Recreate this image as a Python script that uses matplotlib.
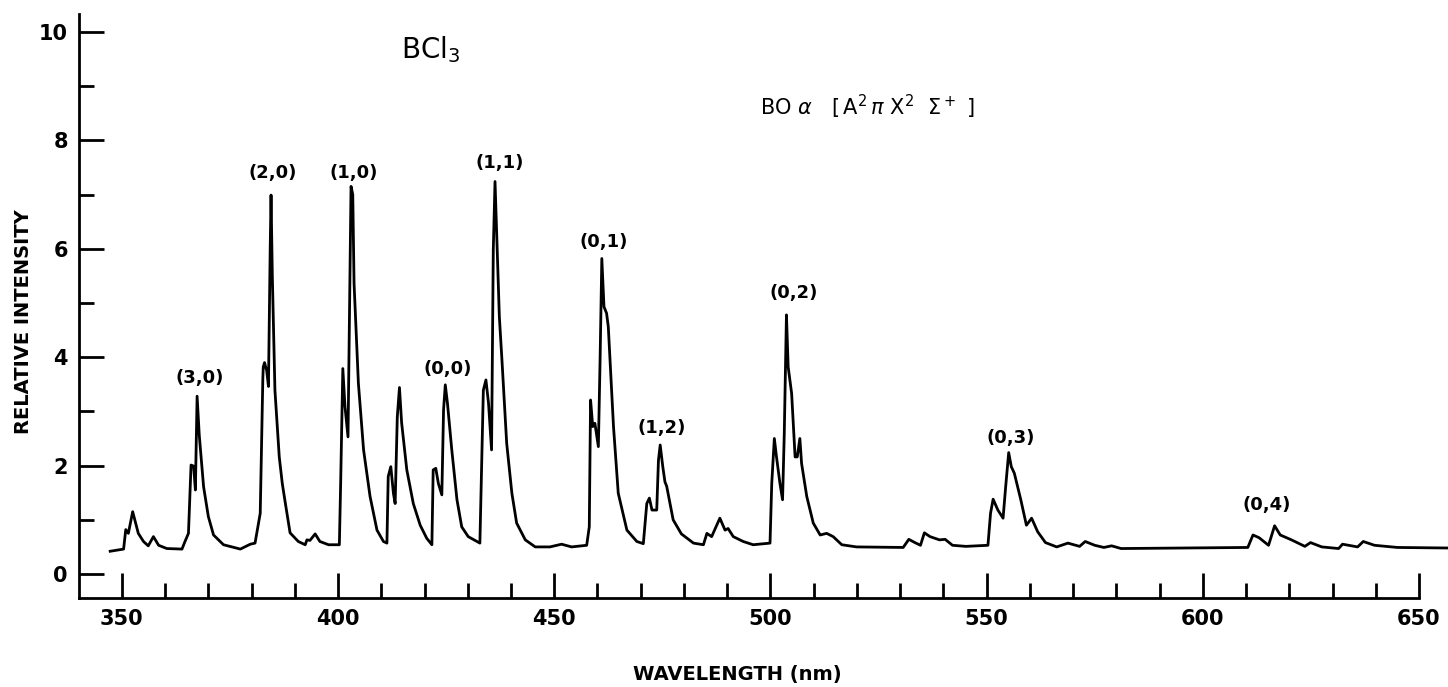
import matplotlib
matplotlib.use('Agg')
import matplotlib.pyplot as plt
from matplotlib.ticker import MultipleLocator

# BCl3 emission spectrum
wavelength = [
    347.3, 350.4, 350.9, 351.5, 352.5, 353.8, 355.0, 356.1, 357.3, 358.5,
    360.4, 363.9, 364.6, 365.4, 366.0, 366.6, 367.0, 367.4, 367.9, 368.9,
    370.0, 371.2, 373.5, 377.4, 379.7, 380.8, 382.0, 382.6, 382.7, 383.0,
    383.5, 383.9, 384.3, 384.5, 384.8, 385.4, 386.4, 387.1, 387.8, 388.9,
    390.8, 392.4, 392.8, 393.5, 394.7, 395.8, 397.8, 400.3, 400.6, 401.1,
    401.6, 402.3, 402.8, 403.0, 403.4, 403.7, 404.7, 405.9, 407.4, 409.0,
    410.5, 411.3, 411.6, 412.2, 412.8, 413.2, 413.7, 414.2, 414.7, 415.9,
    417.4, 419.0, 420.5, 421.7, 422.0, 422.6, 423.2, 424.0, 424.4, 424.8,
    425.3, 426.3, 427.5, 428.6, 430.1, 432.8, 433.6, 434.2, 434.8, 435.5,
    435.9, 436.3, 436.7, 437.3, 437.9, 439.0, 440.2, 441.3, 443.3, 445.6,
    449.0, 451.7, 454.0, 457.5, 458.1, 458.4, 458.9, 459.4, 460.2, 460.6,
    461.0, 461.5, 462.1, 462.5, 463.7, 464.8, 466.8, 469.1, 470.6, 471.4,
    472.0, 472.6, 473.7, 474.1, 474.5, 475.1, 475.6, 476.0, 477.5, 479.4,
    482.2, 484.5, 485.3, 486.4, 487.4, 488.3, 489.5, 490.2, 491.4, 493.7,
    496.0, 499.9, 500.3, 500.9, 501.4, 502.2, 502.8, 503.2, 503.7, 504.1,
    504.9, 505.7, 506.2, 506.8, 507.2, 508.4, 509.9, 511.5, 513.0, 514.5,
    516.5, 519.9, 530.7, 532.0, 533.4, 534.7, 535.6, 536.9, 539.1, 540.4,
    542.1, 545.2, 550.3, 550.9, 551.5, 552.6, 553.8, 554.4, 555.1, 555.7,
    556.4, 557.9, 559.2, 560.4, 561.8, 563.6, 566.2, 568.8, 571.5, 572.8,
    575.0, 577.1, 578.9, 581.1, 610.4, 611.6, 613.0, 615.2, 616.6, 617.9,
    620.5, 623.6, 624.9, 627.5, 631.4, 632.3, 635.8, 637.1, 639.7, 645.0,
    656.5,
]
intensity = [
    0.42, 0.46, 0.82, 0.75, 1.15, 0.75, 0.60, 0.52, 0.69, 0.53,
    0.47, 0.46, 0.60, 0.75, 2.01, 1.99, 1.55, 3.28, 2.56, 1.61,
    1.06, 0.72, 0.54, 0.46, 0.55, 0.57, 1.12, 3.60, 3.82, 3.90,
    3.75, 3.46, 5.98, 6.99, 5.49, 3.39, 2.16, 1.67, 1.31, 0.76,
    0.60, 0.54, 0.63, 0.62, 0.74, 0.60, 0.54, 0.54, 1.67, 3.79,
    3.09, 2.53, 5.79, 7.15, 7.00, 5.36, 3.52, 2.29, 1.43, 0.81,
    0.60, 0.57, 1.80, 1.98, 1.49, 1.30, 2.90, 3.44, 2.79, 1.92,
    1.30, 0.90, 0.66, 0.54, 1.92, 1.95, 1.67, 1.46, 3.03, 3.49,
    3.15, 2.29, 1.37, 0.87, 0.69, 0.57, 3.39, 3.58, 3.15, 2.29,
    5.98, 7.24, 6.22, 4.75, 3.95, 2.41, 1.49, 0.94, 0.63, 0.50,
    0.50, 0.55, 0.50, 0.53, 0.87, 3.21, 2.72, 2.78, 2.35, 3.95,
    5.82, 4.93, 4.81, 4.56, 2.72, 1.49, 0.81, 0.60, 0.56, 1.30,
    1.40, 1.18, 1.18, 2.10, 2.38, 1.98, 1.70, 1.62, 1.00, 0.74,
    0.57, 0.54, 0.75, 0.69, 0.87, 1.03, 0.81, 0.84, 0.69, 0.60,
    0.54, 0.57, 1.67, 2.50, 2.16, 1.67, 1.37, 2.60, 4.78, 3.82,
    3.33, 2.16, 2.16, 2.50, 2.04, 1.43, 0.94, 0.72, 0.75, 0.69,
    0.54, 0.50, 0.49, 0.64, 0.58, 0.53, 0.76, 0.69, 0.63, 0.64,
    0.53, 0.51, 0.53, 1.12, 1.38, 1.18, 1.03, 1.61, 2.24, 1.98,
    1.86, 1.37, 0.90, 1.03, 0.78, 0.58, 0.50, 0.57, 0.51, 0.60,
    0.53, 0.49, 0.52, 0.47, 0.49, 0.72, 0.67, 0.53, 0.89, 0.72,
    0.63, 0.51, 0.58, 0.50, 0.47, 0.55, 0.50, 0.60, 0.53, 0.49,
    0.48,
]

# vibrational band labels (v', v'')
band_labels = ['(3,0)', '(2,0)', '(1,0)', '(0,0)', '(1,1)',
               '(0,1)', '(1,2)', '(0,2)', '(0,3)', '(0,4)']
band_x = [368.1, 384.9, 403.5, 425.3, 437.3, 461.4, 474.9, 505.3, 555.5, 614.8]
band_y = [3.61, 7.39, 7.39, 3.79, 7.59, 6.13, 2.69, 5.18, 2.50, 1.27]

plt.rcParams['font.family'] = ['DejaVu Sans']
plt.rcParams['mathtext.fontset'] = 'dejavusans'

fig = plt.figure(figsize=(14.48, 6.87), dpi=100)
ax = fig.add_axes([0.0546, 0.1295, 0.9454, 0.8501])

ax.plot(wavelength, intensity, color='black', lw=2.0, solid_joinstyle='round')

for lab, bx, by in zip(band_labels, band_x, band_y):
    ax.text(bx, by, lab, ha='center', va='center', fontsize=13, fontweight='bold')

ax.text(421.5, 9.68, r'BCl$_3$', ha='center', va='center', fontsize=20)
ax.text(522.5, 8.62,
        r'BO $\alpha$   $\left[\,\mathrm{A}^2\,\pi\ \mathrm{X}^2\ \ \Sigma^+\ \right]$',
        ha='center', va='center', fontsize=15)

ax.set_xlim(340.1, 656.7)
ax.set_ylim(-0.443, 10.33)
ax.spines['top'].set_visible(False)
ax.spines['right'].set_visible(False)
ax.spines['bottom'].set_bounds(340.1, 650)
ax.spines['left'].set_linewidth(2)
ax.spines['bottom'].set_linewidth(2)

ax.xaxis.set_major_locator(MultipleLocator(50))
ax.xaxis.set_minor_locator(MultipleLocator(10))
ax.yaxis.set_major_locator(MultipleLocator(2))
ax.yaxis.set_minor_locator(MultipleLocator(1))
ax.set_xticks(range(350, 651, 50))
ax.tick_params(which='major', direction='in', length=18, width=2,
               labelsize=15, pad=8)
ax.tick_params(which='minor', direction='in', length=11, width=2)
for t in ax.get_xticklabels() + ax.get_yticklabels():
    t.set_fontweight('bold')

ax.set_xlabel('WAVELENGTH (nm)', fontsize=14, fontweight='bold')
ax.set_ylabel('RELATIVE INTENSITY', fontsize=14, fontweight='bold')
ax.xaxis.set_label_coords(0.481, -0.115)
ax.yaxis.set_label_coords(-0.034, 0.474)

fig.savefig('out.png', dpi=100)
